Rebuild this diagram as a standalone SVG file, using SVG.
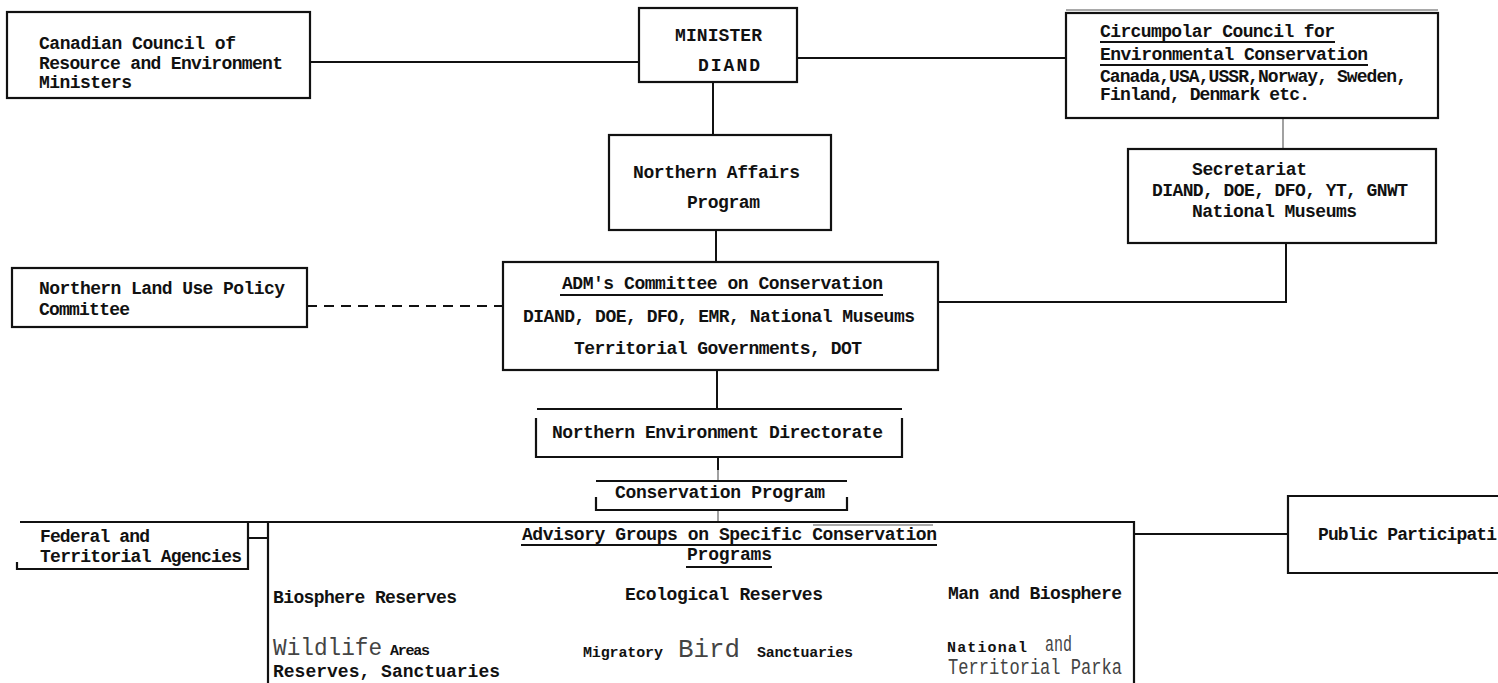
<svg xmlns="http://www.w3.org/2000/svg" width="1498" height="683" viewBox="0 0 1498 683">
<style>
.box{fill:none;stroke:#111;stroke-width:2.2}
.ln{fill:none;stroke:#111;stroke-width:2}
.thin{fill:none;stroke:#555;stroke-width:1.1}
.t{font-family:"Liberation Mono","Courier New",monospace;font-weight:bold;font-size:18px;fill:#111}
.s{font-family:"Liberation Mono","Courier New",monospace;font-weight:bold;font-size:15px;fill:#111}
.lt{font-family:"Liberation Mono","Courier New",monospace;font-weight:normal;fill:#444}
.ul{stroke:#111;stroke-width:2.2}
</style>
<rect width="1498" height="683" fill="#fff"/>
<g id="connectors">
<line class="ln" x1="310" y1="62" x2="639" y2="62"/>
<line class="ln" x1="797" y1="58" x2="1066" y2="58"/>
<line class="ln" x1="713" y1="82" x2="713" y2="135"/>
<line class="ln" x1="716" y1="230" x2="716" y2="262"/>
<line class="thin" x1="1283" y1="118" x2="1283" y2="149"/>
<polyline class="ln" points="1286,243 1286,302 938,302"/>
<line class="ln" x1="307" y1="306" x2="503" y2="306" stroke-dasharray="10 7"/>
<line class="ln" x1="717" y1="370" x2="717" y2="409" stroke-width="3"/>
<line class="ln" x1="718" y1="457" x2="718" y2="470" stroke-width="3"/>
<line class="thin" x1="718" y1="470" x2="718" y2="481"/>
<line class="thin" x1="718" y1="510" x2="718" y2="522"/>
<line class="ln" x1="248" y1="538" x2="268" y2="538"/>
<line class="ln" x1="1134" y1="534" x2="1288" y2="534"/>
</g>
<g id="ccrem">
<rect class="box" x="7" y="12" width="303" height="86"/>
<text class="t" x="39" y="49" textLength="197">Canadian Council of</text>
<text class="t" x="39" y="69" textLength="244">Resource and Environment</text>
<text class="t" x="39" y="88" textLength="93">Ministers</text>
</g>
<g id="minister">
<rect class="box" x="639" y="8" width="158" height="74"/>
<text class="t" x="675" y="41" textLength="87">MINISTER</text>
<text class="t" x="698" y="71" textLength="62">DIAND</text>
</g>
<g id="circumpolar">
<rect class="box" x="1066" y="13" width="372" height="105" stroke-width="2.6"/>
<line class="thin" x1="1066" y1="10" x2="1438" y2="10"/>
<text class="t" x="1100" y="37" textLength="235">Circumpolar Council for</text>
<line class="ul" x1="1100" y1="42" x2="1335" y2="42"/>
<text class="t" x="1100" y="60" textLength="268">Environmental Conservation</text>
<line class="ul" x1="1100" y1="65" x2="1368" y2="65"/>
<text class="t" x="1100" y="82" textLength="307">Canada,USA,USSR,Norway, Sweden,</text>
<text class="t" x="1100" y="100" textLength="210">Finland, Denmark etc.</text>
</g>
<g id="northern-affairs">
<rect class="box" x="609" y="135" width="222" height="95"/>
<text class="t" x="633" y="178" textLength="167">Northern Affairs</text>
<text class="t" x="687" y="208" textLength="73">Program</text>
</g>
<g id="secretariat">
<rect class="box" x="1128" y="149" width="308" height="94"/>
<text class="t" x="1192" y="175" textLength="115">Secretariat</text>
<text class="t" x="1152" y="196" textLength="256">DIAND, DOE, DFO, YT, GNWT</text>
<text class="t" x="1192" y="217" textLength="165">National Museums</text>
</g>
<g id="land-use">
<rect class="box" x="12" y="268" width="295" height="59"/>
<text class="t" x="39" y="294" textLength="246">Northern Land Use Policy</text>
<text class="t" x="39" y="315" textLength="91">Committee</text>
</g>
<g id="adm">
<rect class="box" x="503" y="262" width="435" height="108"/>
<text class="t" x="562" y="289" textLength="321">ADM's Committee on Conservation</text>
<line class="ul" x1="560" y1="295" x2="883" y2="295"/>
<text class="t" x="523" y="322" textLength="392">DIAND, DOE, DFO, EMR, National Museums</text>
<text class="t" x="574" y="354" textLength="288">Territorial Governments, DOT</text>
</g>
<g id="ned">
<path class="box" d="M537,409 H902 M536,418 V457 H902 V418"/>
<text class="t" x="552" y="438" textLength="331">Northern Environment Directorate</text>
</g>
<g id="conservation-program">
<path class="box" d="M596,481 H847 M596,497 V510 H847 V497"/>
<text class="t" x="615" y="498" textLength="210">Conservation Program</text>
</g>
<g id="federal">
<path class="box" d="M20,522 H268 M17,562 V569 H248 V522"/>
<text class="t" x="40" y="542" textLength="110">Federal and</text>
<text class="t" x="40" y="562" textLength="202">Territorial Agencies</text>
</g>
<g id="advisory">
<path class="box" d="M268,683 V522 H1134 V683"/>
<line class="thin" x1="813" y1="525" x2="933" y2="525"/>
<text class="t" x="522" y="540" textLength="415">Advisory Groups on Specific Conservation</text>
<line class="ul" x1="521" y1="545" x2="937" y2="545"/>
<text class="t" x="687" y="560" textLength="85">Programs</text>
<line class="ul" x1="686" y1="567" x2="772" y2="567"/>
<text class="t" x="273" y="603" textLength="184">Biosphere Reserves</text>
<text class="t" x="625" y="600" textLength="198">Ecological Reserves</text>
<text class="t" x="948" y="599" textLength="174">Man and Biosphere</text>
<text class="lt" x="273" y="655" font-size="24" textLength="109" lengthAdjust="spacingAndGlyphs">Wildlife</text>
<text class="s" x="390" y="655" textLength="40">Areas</text>
<text class="t" x="273" y="677" textLength="227">Reserves, Sanctuaries</text>
<text class="s" x="583" y="657" textLength="80">Migratory</text>
<text class="lt" x="678" y="657" font-size="26" textLength="62" lengthAdjust="spacingAndGlyphs">Bird</text>
<text class="s" x="757" y="657" textLength="96">Sanctuaries</text>
<text class="s" x="947" y="652" textLength="80">National</text>
<text class="lt" x="1045" y="651" font-size="22" textLength="27" lengthAdjust="spacingAndGlyphs">and</text>
<text class="lt" x="948" y="674" font-size="22" textLength="174" lengthAdjust="spacingAndGlyphs">Territorial Parka</text>
</g>
<g id="public">
<path class="box" d="M1498,496 H1288 V573 H1498"/>
<text class="t" x="1318" y="540" textLength="179">Public Participati</text>
</g>
</svg>
